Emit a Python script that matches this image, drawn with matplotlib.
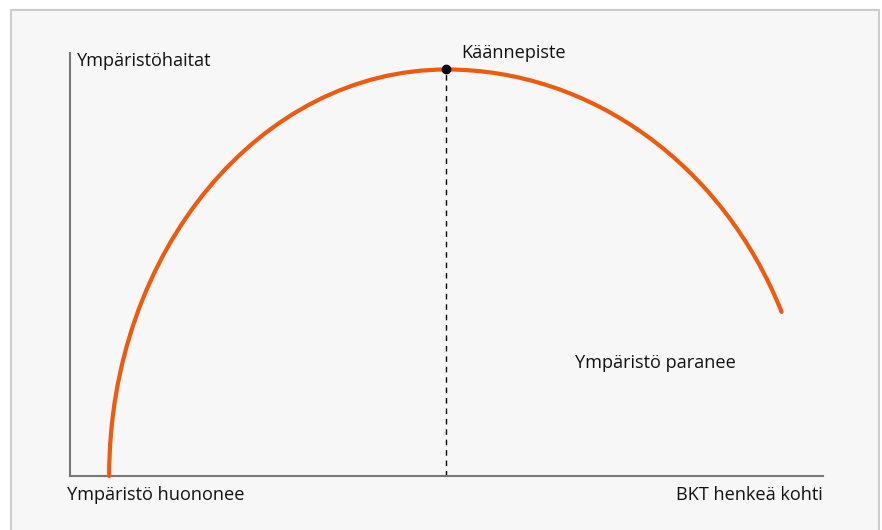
import matplotlib
matplotlib.use("Agg")
import matplotlib.pyplot as plt
from matplotlib.patches import Rectangle, PathPatch
from matplotlib.path import Path

# Curve as two cubic Bezier segments (arbitrary units: x = GDP per capita, y = environmental harm)
# start -> control -> control -> peak -> control -> control -> end
curve_x = [5.2, 5.2, 25.3, 50.0, 69.2, 86.7, 94.5]
curve_y = [0.0, 53.1, 96.1, 96.1, 96.1, 73.6, 38.8]
peak_x = 50.0
peak_y = 96.1

label_y = "Ympäristöhaitat"
label_peak = "Käännepiste"
label_better = "Ympäristö paranee"
label_worse = "Ympäristö huononee"
label_x = "BKT henkeä kohti"

W, H = 882, 530
fig = plt.figure(figsize=(W / 100, H / 100), dpi=100)
fig.patch.set_facecolor("white")
plt.rcParams['font.family'] = ['Open Sans', 'DejaVu Sans']

# panel background with border
fig.patches.append(Rectangle((10.5 / W, -0.1), (879 - 10.5) / W, (H - 9.5) / H + 0.1,
                             transform=fig.transFigure, facecolor="#f7f7f7",
                             edgecolor="#cccccc", linewidth=1.5, zorder=-10))

ax_l, ax_r, ax_t, ax_b = 70, 823, 53, 476
ax = fig.add_axes([ax_l / W, 1 - ax_b / H, (ax_r - ax_l) / W, (ax_b - ax_t) / H])
ax.set_zorder(5)
ax.set_facecolor("none")
ax.set_xlim(0, 100)
ax.set_ylim(0, 100)
for s in ["top", "right"]:
    ax.spines[s].set_visible(False)
for s in ["left", "bottom"]:
    ax.spines[s].set_color("#777777")
    ax.spines[s].set_linewidth(1.5)
ax.set_xticks([])
ax.set_yticks([])

codes = [Path.MOVETO] + [Path.CURVE4] * (len(curve_x) - 1)
path = Path(list(zip(curve_x, curve_y)), codes)
ax.add_patch(PathPatch(path, facecolor="none", edgecolor="#ee5a0e", linewidth=3.0,
                       capstyle="round", joinstyle="round", zorder=3, clip_on=False))
ax.plot([peak_x, peak_x], [0, peak_y], color="black", linestyle=(0, (4, 3.5)), linewidth=1.0, zorder=2)
ax.plot([peak_x], [peak_y], marker="o", markersize=6, color="black", zorder=4, clip_on=False)

fs = 13.1
def px(x, y):
    return (x / W, 1 - y / H)

fig.text(*px(77, 61), label_y, fontsize=fs, va="center", ha="left", color="#111111")
fig.text(*px(461, 53), label_peak, fontsize=fs, va="center", ha="left", color="#111111")
fig.text(*px(575, 363), label_better, fontsize=fs, va="center", ha="left", color="#111111")
fig.text(*px(67, 495), label_worse, fontsize=fs, va="center", ha="left", color="#111111")
fig.text(*px(823, 495), label_x, fontsize=fs, va="center", ha="right", color="#111111")

fig.savefig("out.png", dpi=100)
